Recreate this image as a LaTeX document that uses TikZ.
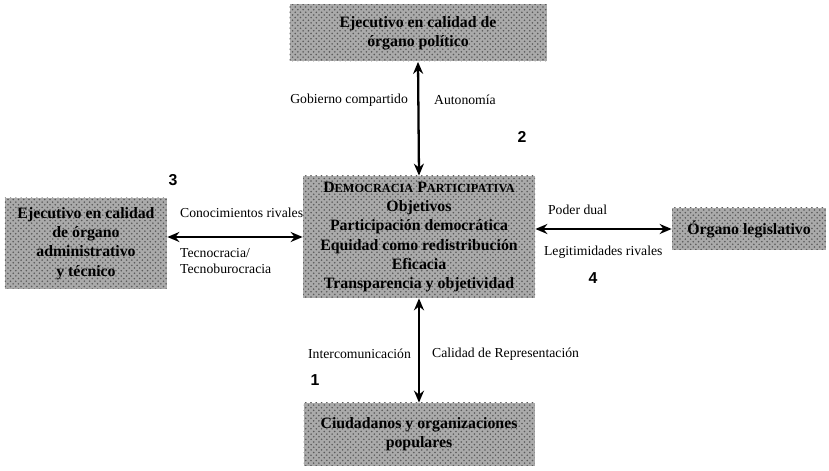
\documentclass[tikz,border=0pt]{standalone}
\usepackage{tikz}
\usetikzlibrary{arrows.meta,positioning,calc,patterns}
\usepackage{fontspec}
\setmainfont{Liberation Serif}
\setsansfont{Liberation Sans}
\usepackage{xcolor}
\definecolor{stipcol}{RGB}{170,170,170}
\definecolor{dotcol}{RGB}{90,90,90}

\begin{document}
\begin{tikzpicture}[
    >={Stealth[length=2.4mm,width=2mm]},
    organ/.style={rectangle, minimum width=#1, align=center, font=\small\bfseries, fill=stipcol, postaction={pattern=crosshatch dots, pattern color=dotcol}, inner sep=2pt},
    organ/.default=3cm,
    arrow/.style={<->, black, line width=1.3pt},
    lbl/.style={font=\fontsize{7.8}{9.2}\selectfont, align=left, inner sep=1pt},
    num/.style={font=\sffamily\bfseries\small, inner sep=1pt},
]
\useasboundingbox (0,0) rectangle (16.58,9.42);

% organos
\node[organ=5.14cm, minimum height=1.14cm] (ejpol) at (8.36,8.76) {Ejecutivo en calidad de\\órgano político};
\node[organ=4.64cm, minimum height=2.44cm] (demo) at (8.38,4.68) {D{\scriptsize EMOCRACIA} P{\scriptsize ARTICIPATIVA}\\Objetivos\\Participación democrática\\Equidad como redistribución\\Eficacia\\Transparencia y objetividad};
\node[organ=3.24cm, minimum height=1.82cm] (ejtec) at (1.72,4.55) {Ejecutivo en calidad\\de órgano\\administrativo\\y técnico};
\node[organ=3.08cm, minimum height=0.84cm] (legis) at (14.98,4.84) {Órgano legislativo};
\node[organ=4.62cm, minimum height=1.26cm] (ciud) at (8.38,0.73) {Ciudadanos y organizaciones\\populares};

% conectores
\draw[arrow] (ejpol.south) -- (demo.north);
\draw[arrow] (ejtec.east |- demo.west) -- (demo.west);
\draw[arrow] (demo.east |- legis.west) -- (legis.west);
\draw[arrow] (demo.south) -- (ciud.north);

% etiquetas
\node[lbl, anchor=east] (gob) at (8.2,7.42) {Gobierno compartido};
\node[lbl, anchor=west] (auto) at (8.64,7.42) {Autonomía};
\node[lbl, anchor=west] (conoc) at (3.56,5.16) {Conocimientos rivales};
\node[lbl, anchor=north west] (tecno) at (3.56,4.5) {Tecnocracia/\\Tecnoburocracia};
\node[lbl, anchor=west] (poder) at (10.92,5.22) {Poder dual};
\node[lbl, anchor=west] (legit) at (10.84,4.38) {Legitimidades rivales};
\node[lbl, anchor=east] (inter) at (8.26,2.34) {Intercomunicación};
\node[lbl, anchor=west] (calid) at (8.6,2.34) {Calidad de Representación};

% numeros
\node[num] (n1) at (6.3,1.82) {1};
\node[num] (n2) at (10.44,6.68) {2};
\node[num] (n3) at (3.46,5.82) {3};
\node[num] (n4) at (11.86,3.86) {4};
\end{tikzpicture}
\end{document}
